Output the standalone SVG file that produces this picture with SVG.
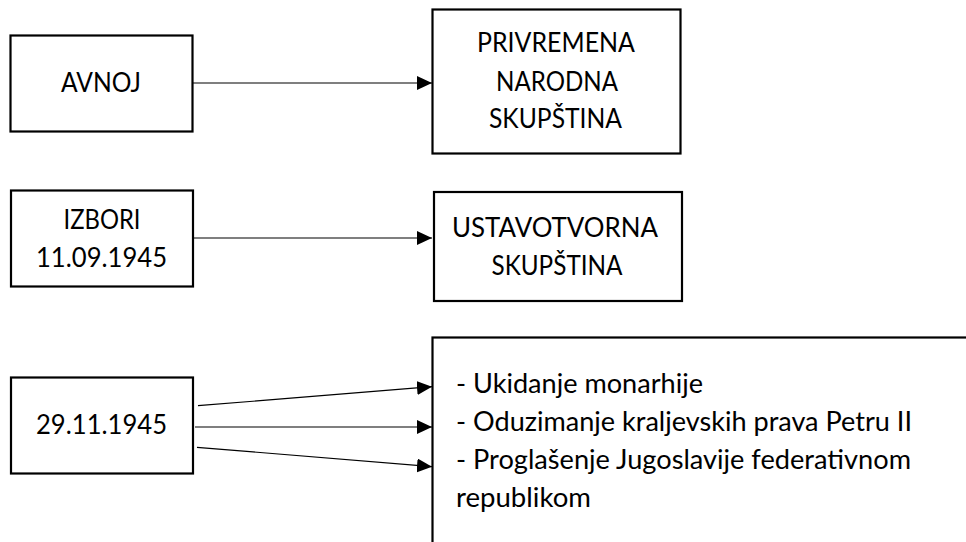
<svg xmlns="http://www.w3.org/2000/svg" width="966" height="542" viewBox="0 0 966 542">
<defs>
<marker id="ah" viewBox="0 0 15 14" refX="15" refY="7" markerWidth="15" markerHeight="14" markerUnits="userSpaceOnUse" orient="auto">
<path d="M0,0 L15,7 L0,14 z" fill="#000"/>
</marker>
<style>
.box{fill:#fff;stroke:#000;stroke-width:2.2}
.t{font-family:Lato,"Open Sans","Liberation Sans",sans-serif;font-size:26px;fill:#000}
.c{text-anchor:middle}
.con{stroke:#000;stroke-width:1.2;fill:none;marker-end:url(#ah)}
</style>
</defs>
<rect width="966" height="542" fill="#fff"/>
<g id="connectors">
<line class="con" x1="193" y1="83" x2="432" y2="83"/>
<line class="con" x1="193" y1="238" x2="432" y2="238"/>
<line class="con" x1="198" y1="405.7" x2="432" y2="386.7"/>
<line class="con" x1="195" y1="427" x2="432" y2="427"/>
<line class="con" x1="197" y1="447.3" x2="432" y2="466.7"/>
</g>
<g id="avnoj">
<rect class="box" x="10.5" y="35.5" width="182" height="96"/>
<text class="t c" x="101" y="92" textLength="80" lengthAdjust="spacingAndGlyphs">AVNOJ</text>
</g>
<g id="privremena">
<rect class="box" x="432.5" y="9.5" width="248" height="144"/>
<text class="t c" x="556" y="52" textLength="158" lengthAdjust="spacingAndGlyphs">PRIVREMENA</text>
<text class="t c" x="557" y="91" textLength="122" lengthAdjust="spacingAndGlyphs">NARODNA</text>
<text class="t c" x="555.5" y="128" textLength="133" lengthAdjust="spacingAndGlyphs">SKUPŠTINA</text>
</g>
<g id="izbori">
<rect class="box" x="11" y="190.5" width="182" height="96"/>
<text class="t c" x="102" y="229" textLength="77" lengthAdjust="spacingAndGlyphs">IZBORI</text>
<text class="t c" x="101.5" y="267" textLength="131" lengthAdjust="spacingAndGlyphs">11.09.1945</text>
</g>
<g id="ustavotvorna">
<rect class="box" x="434" y="192" width="248" height="109"/>
<text class="t c" x="555" y="237" textLength="206" lengthAdjust="spacingAndGlyphs">USTAVOTVORNA</text>
<text class="t c" x="557" y="275" textLength="131" lengthAdjust="spacingAndGlyphs">SKUPŠTINA</text>
</g>
<g id="datum">
<rect class="box" x="11" y="377.5" width="182" height="96"/>
<text class="t c" x="101.5" y="434" textLength="131" lengthAdjust="spacingAndGlyphs">29.11.1945</text>
</g>
<g id="odluke">
<rect class="box" x="432.5" y="337.5" width="600" height="300"/>
<text class="t" x="456" y="393" textLength="247" lengthAdjust="spacingAndGlyphs">- Ukidanje monarhije</text>
<text class="t" x="456" y="431" textLength="456" lengthAdjust="spacingAndGlyphs">- Oduzimanje kraljevskih prava Petru II</text>
<text class="t" x="456" y="469" textLength="455" lengthAdjust="spacingAndGlyphs">- Proglašenje Jugoslavije federativnom</text>
<text class="t" x="456" y="507" textLength="135" lengthAdjust="spacingAndGlyphs">republikom</text>
</g>
</svg>
